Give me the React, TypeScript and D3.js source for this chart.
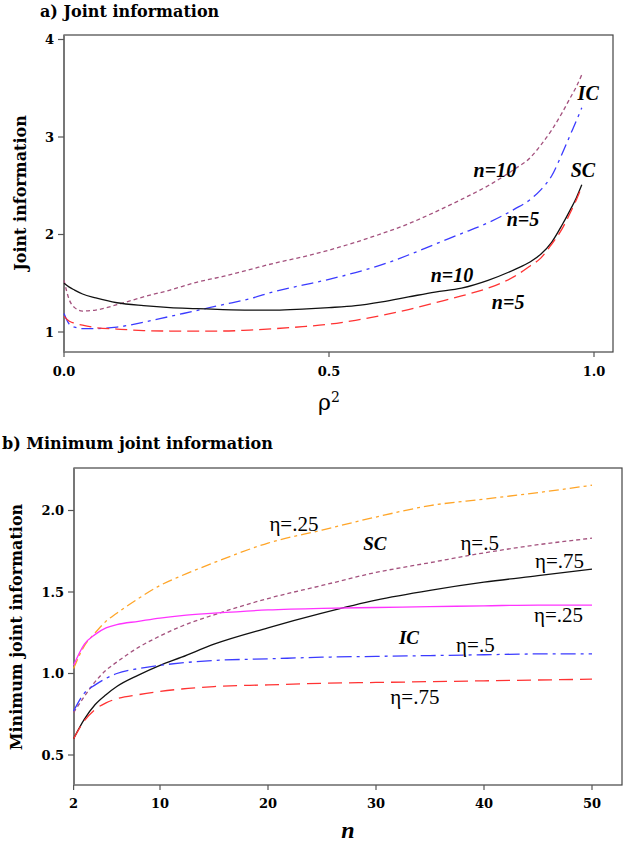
import React from "react";
import * as d3 from "d3";

// ---------- Panel a) data ----------
const rho2 = [0, 0.01, 0.02, 0.035, 0.06, 0.1, 0.15, 0.2, 0.25, 0.3, 0.35, 0.4, 0.45, 0.5, 0.55, 0.6, 0.65, 0.7, 0.75, 0.8, 0.85, 0.88, 0.9, 0.92, 0.94, 0.955, 0.967, 0.977];
const icN10 = [1.53, 1.33, 1.25, 1.215, 1.225, 1.28, 1.36, 1.43, 1.51, 1.57, 1.64, 1.71, 1.77, 1.84, 1.92, 2.01, 2.11, 2.23, 2.36, 2.50, 2.67, 2.79, 2.92, 3.07, 3.25, 3.40, 3.52, 3.64];
const icN5 = [1.19, 1.08, 1.05, 1.035, 1.035, 1.05, 1.10, 1.16, 1.22, 1.28, 1.34, 1.42, 1.48, 1.54, 1.61, 1.69, 1.79, 1.90, 2.01, 2.12, 2.26, 2.36, 2.46, 2.60, 2.83, 3.02, 3.17, 3.30];
const scN10 = [1.50, 1.46, 1.43, 1.39, 1.35, 1.30, 1.27, 1.25, 1.24, 1.23, 1.225, 1.225, 1.235, 1.25, 1.27, 1.31, 1.36, 1.41, 1.45, 1.53, 1.64, 1.72, 1.80, 1.92, 2.10, 2.25, 2.38, 2.51];
const scN5 = [1.16, 1.11, 1.09, 1.07, 1.045, 1.03, 1.015, 1.01, 1.01, 1.01, 1.02, 1.035, 1.055, 1.08, 1.12, 1.17, 1.23, 1.30, 1.37, 1.45, 1.57, 1.68, 1.76, 1.90, 2.06, 2.22, 2.36, 2.49];
const aYTicks = [1, 2, 3, 4];
const aXTicks = [0, 0.5, 1.0];
const aLabels = [
  { text: "IC", x: 0.989, y: 3.45 },
  { text: "SC", x: 0.979, y: 2.66 },
  { text: "n=10", x: 0.813, y: 2.66 },
  { text: "n=5", x: 0.866, y: 2.16 },
  { text: "n=10", x: 0.732, y: 1.585 },
  { text: "n=5", x: 0.838, y: 1.31 },
];

// ---------- Panel b) data ----------
const nVals = [2, 3, 4, 5, 6, 8, 10, 12, 15, 20, 25, 30, 35, 40, 45, 50];
const scEta25 = [1.03, 1.17, 1.25, 1.32, 1.37, 1.46, 1.54, 1.60, 1.68, 1.80, 1.88, 1.96, 2.03, 2.07, 2.11, 2.155];
const scEta5 = [0.76, 0.86, 0.95, 1.02, 1.07, 1.16, 1.23, 1.29, 1.36, 1.46, 1.54, 1.62, 1.68, 1.74, 1.79, 1.83];
const scEta75 = [0.60, 0.72, 0.81, 0.87, 0.92, 0.99, 1.05, 1.10, 1.18, 1.28, 1.37, 1.45, 1.51, 1.56, 1.60, 1.64];
const icEta25 = [1.05, 1.18, 1.24, 1.28, 1.30, 1.32, 1.34, 1.355, 1.37, 1.39, 1.40, 1.405, 1.41, 1.415, 1.42, 1.42];
const icEta5 = [0.77, 0.88, 0.93, 0.97, 1.00, 1.03, 1.05, 1.065, 1.08, 1.09, 1.10, 1.105, 1.11, 1.115, 1.12, 1.12];
const icEta75 = [0.60, 0.71, 0.78, 0.82, 0.845, 0.87, 0.89, 0.905, 0.92, 0.93, 0.94, 0.945, 0.95, 0.955, 0.96, 0.965];
const bYTicks = [0.5, 1.0, 1.5, 2.0];
const bXTicks = [2, 10, 20, 30, 40, 50];
const bLabels = [
  { text: "η=.25", x: 22.4, y: 1.92, bold: false },
  { text: "SC", x: 29.9, y: 1.80, bold: true },
  { text: "η=.5", x: 39.6, y: 1.80, bold: false },
  { text: "η=.75", x: 47.0, y: 1.695, bold: false },
  { text: "η=.25", x: 46.9, y: 1.364, bold: false },
  { text: "IC", x: 33.05, y: 1.22, bold: true },
  { text: "η=.5", x: 39.2, y: 1.18, bold: false },
  { text: "η=.75", x: 33.6, y: 0.86, bold: false },
];

const PURPLE = "#a4527e";
const BLUE = "#3b3bff";
const RED = "#ff3333";
const BLACK = "#111";
const ORANGE = "#ffa528";
const PINK = "#ff33ff";

const tickFont = "'DejaVu Serif', serif";
const titleFont = "'DejaVu Serif', serif";
const labelFont = "'Liberation Serif', 'Times New Roman', serif";

export default function App() {
  // panel a scales
  const ax = d3.scaleLinear().domain([0, 1]).range([64, 594]);
  const ay = d3.scaleLinear().domain([1, 4]).range([332, 39.5]);
  const aLine = (ys: number[]) =>
    d3.line<number>().x((_, i) => ax(rho2[i])).y((d) => ay(d)).curve(d3.curveMonotoneX)(ys) || "";

  // panel b scales
  const bx = d3.scaleLinear().domain([2, 50]).range([73.6, 592]);
  const by = d3.scaleLinear().domain([0.5, 2.0]).range([755, 510.5]);
  const bLine = (ys: number[]) =>
    d3.line<number>().x((_, i) => bx(nVals[i])).y((d) => by(d)).curve(d3.curveMonotoneX)(ys) || "";

  const aSeries = [
    { ys: icN10, color: PURPLE, dash: "4,3" },
    { ys: icN5, color: BLUE, dash: "12,5,3,5" },
    { ys: scN10, color: BLACK, dash: "" },
    { ys: scN5, color: RED, dash: "12,6" },
  ];
  const bSeries = [
    { ys: scEta25, color: ORANGE, dash: "10,4,3,4" },
    { ys: scEta5, color: PURPLE, dash: "4,3" },
    { ys: scEta75, color: BLACK, dash: "" },
    { ys: icEta25, color: PINK, dash: "" },
    { ys: icEta5, color: BLUE, dash: "15,5,3,5" },
    { ys: icEta75, color: RED, dash: "14,7" },
  ];

  const frameA = { l: 64, r: 613, t: 35, b: 352 };
  const frameB = { l: 74, r: 622, t: 468, b: 785 };

  return (
    <svg
      width={623}
      height={843}
      style={{ position: "absolute", left: 0, top: 0, background: "#fff" }}
    >
      <rect x={0} y={0} width={623} height={843} fill="#fff" />

      {/* ---------- Panel a ---------- */}
      <text x={40} y={17} fontFamily={titleFont} fontWeight="bold" fontSize={16} fill="#000">
        a) Joint information
      </text>
      <rect
        x={frameA.l}
        y={frameA.t}
        width={frameA.r - frameA.l}
        height={frameA.b - frameA.t}
        fill="none"
        stroke="#444"
        strokeWidth={1.2}
      />
      <line x1={frameA.l} x2={frameA.l} y1={frameA.t} y2={frameA.b} stroke="#777" strokeWidth={2} />
      {aYTicks.map((t) => (
        <g key={"ay" + t}>
          <line x1={frameA.l - 6} x2={frameA.l} y1={ay(t)} y2={ay(t)} stroke="#555" strokeWidth={1.2} />
          <text x={54} y={ay(t)} dy="0.36em" textAnchor="end" fontFamily={tickFont} fontWeight="bold" fontSize={13}>
            {t}
          </text>
        </g>
      ))}
      {aXTicks.map((t) => (
        <g key={"ax" + t}>
          <line x1={ax(t)} x2={ax(t)} y1={frameA.b} y2={frameA.b + 5} stroke="#555" strokeWidth={1.2} />
          <text x={ax(t)} y={376} textAnchor="middle" fontFamily={tickFont} fontWeight="bold" fontSize={13}>
            {d3.format(".1f")(t)}
          </text>
        </g>
      ))}
      <text x={ax(0.5)} y={410} textAnchor="middle" fontFamily={tickFont} fontSize={22}>
        ρ<tspan fontSize={14} dy={-8}>2</tspan>
      </text>
      <text
        transform={`translate(26,193) rotate(-90)`}
        textAnchor="middle"
        fontFamily={titleFont}
        fontWeight="bold"
        fontSize={16}
      >
        Joint information
      </text>
      {aSeries.map((s, i) => (
        <path key={"as" + i} d={aLine(s.ys)} fill="none" stroke={s.color} strokeWidth={1.3} strokeDasharray={s.dash} />
      ))}
      {aLabels.map((l, i) => (
        <text
          key={"al" + i}
          x={ax(l.x)}
          y={ay(l.y)}
          dy="0.35em"
          textAnchor="middle"
          fontFamily={labelFont}
          fontWeight="bold"
          fontStyle="italic"
          fontSize={20}
        >
          {l.text}
        </text>
      ))}

      {/* ---------- Panel b ---------- */}
      <text x={2} y={449} fontFamily={titleFont} fontWeight="bold" fontSize={16} fill="#000">
        b) Minimum joint information
      </text>
      <rect
        x={frameB.l}
        y={frameB.t}
        width={frameB.r - frameB.l}
        height={frameB.b - frameB.t}
        fill="none"
        stroke="#444"
        strokeWidth={1.2}
      />
      <line x1={frameB.l} x2={frameB.l} y1={frameB.t} y2={frameB.b} stroke="#777" strokeWidth={2} />
      {bYTicks.map((t) => (
        <g key={"by" + t}>
          <line x1={frameB.l - 6} x2={frameB.l} y1={by(t)} y2={by(t)} stroke="#555" strokeWidth={1.2} />
          <text x={64} y={by(t)} dy="0.36em" textAnchor="end" fontFamily={tickFont} fontWeight="bold" fontSize={13}>
            {d3.format(".1f")(t)}
          </text>
        </g>
      ))}
      {bXTicks.map((t) => (
        <g key={"bx" + t}>
          <line x1={bx(t)} x2={bx(t)} y1={frameB.b} y2={frameB.b + 5} stroke="#555" strokeWidth={1.2} />
          <text x={bx(t)} y={808} textAnchor="middle" fontFamily={tickFont} fontWeight="bold" fontSize={13}>
            {t}
          </text>
        </g>
      ))}
      <text x={bx(27.4)} y={838} textAnchor="middle" fontFamily={labelFont} fontWeight="bold" fontStyle="italic" fontSize={24}>
        n
      </text>
      <text
        transform={`translate(22,627) rotate(-90)`}
        textAnchor="middle"
        fontFamily={titleFont}
        fontWeight="bold"
        fontSize={16}
      >
        Minimum joint information
      </text>
      {bSeries.map((s, i) => (
        <path key={"bs" + i} d={bLine(s.ys)} fill="none" stroke={s.color} strokeWidth={1.3} strokeDasharray={s.dash} />
      ))}
      {bLabels.map((l, i) => (
        <text
          key={"bl" + i}
          x={bx(l.x)}
          y={by(l.y)}
          dy="0.35em"
          textAnchor="middle"
          fontFamily={labelFont}
          fontWeight={l.bold ? "bold" : "normal"}
          fontStyle={l.bold ? "italic" : "normal"}
          fontSize={l.bold ? 19 : 21}
        >
          {l.text}
        </text>
      ))}
    </svg>
  );
}
